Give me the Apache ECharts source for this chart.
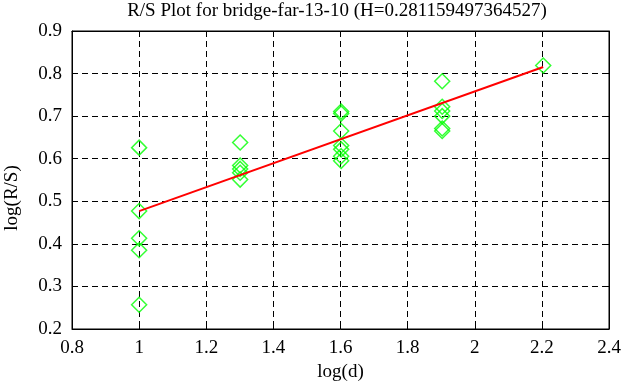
<!DOCTYPE html>
<html><head><meta charset="utf-8">
<script src="https://cdn.jsdelivr.net/npm/echarts@6/dist/echarts.min.js"></script>
<style>html,body{margin:0;padding:0;background:#fff}#c{width:626px;height:387px}</style>
</head><body><div id="c"></div>
<script>
const titleText = 'R/S Plot for bridge-far-13-10 (H=0.281159497364527)';
const xName = 'log(d)';
const yName = 'log(R/S)';
const xTicks = ['0.8','1','1.2','1.4','1.6','1.8','2','2.2','2.4'];
const yTicks = ['0.2','0.3','0.4','0.5','0.6','0.7','0.8','0.9'];
const logD = [1, 1, 1, 1, 1,
  1.301, 1.301, 1.301, 1.301, 1.301,
  1.602, 1.602, 1.602, 1.602, 1.602, 1.602, 1.602,
  1.903, 1.903, 1.903, 1.903, 1.903, 1.903,
  2.204];
const logRS = [0.626, 0.477, 0.413, 0.385, 0.257,
  0.638, 0.584, 0.576, 0.567, 0.551,
  0.711, 0.706, 0.665, 0.631, 0.622, 0.606, 0.595,
  0.782, 0.722, 0.712, 0.700, 0.671, 0.665,
  0.819];
const fitX = [1, 2.204];
const fitY = [0.477, 0.8155];

const font = 'Liberation Serif';
const fs = 19;
const chart = echarts.init(document.getElementById('c'));
const pts = logD.map((x, i) => [x, logRS[i]]);
const fit = fitX.map((x, i) => [x, fitY[i]]);
const tickStyle = {show: true, inside: true, length: 6, lineStyle: {color: '#000', width: 1}};
chart.setOption({
  animation: false,
  backgroundColor: '#fff',
  title: {text: titleText, left: 337, top: 2, padding: 0, textAlign: 'center',
    textStyle: {fontFamily: font, fontSize: fs, fontWeight: 'normal', color: '#000'}},
  graphic: [{
    type: 'text', x: 12, y: 198, rotation: Math.PI / 2,
    style: {text: yName, fontFamily: font, fontSize: fs, fill: '#000',
      align: 'center', verticalAlign: 'middle'}
  }],
  grid: {left: 72, right: 17, top: 31, bottom: 55, show: true, borderColor: '#000', borderWidth: 1},
  xAxis: [{
    type: 'value', min: 0.8, max: 2.4, interval: 0.2,
    name: xName, nameLocation: 'middle', nameGap: 34,
    nameTextStyle: {fontFamily: font, fontSize: fs, color: '#000'},
    axisLine: {show: true, lineStyle: {color: '#000'}},
    axisTick: tickStyle,
    axisLabel: {fontFamily: font, fontSize: fs, color: '#000', margin: 10,
      formatter: v => xTicks[Math.round((v - 0.8) / 0.2)]},
    splitLine: {show: true, lineStyle: {color: '#000', type: [6, 4], width: 1}}
  }, {
    type: 'value', position: 'top', min: 0.8, max: 2.4, interval: 0.2,
    axisLine: {show: true, lineStyle: {color: '#000'}},
    axisTick: tickStyle, axisLabel: {show: false}, splitLine: {show: false}
  }],
  yAxis: [{
    type: 'value', min: 0.2, max: 0.9, interval: 0.1,
    axisLine: {show: true, lineStyle: {color: '#000'}},
    axisTick: tickStyle,
    axisLabel: {fontFamily: font, fontSize: fs, color: '#000', margin: 10,
      formatter: v => yTicks[Math.round((v - 0.2) / 0.1)]},
    splitLine: {show: true, lineStyle: {color: '#000', type: [6, 4], width: 1}}
  }, {
    type: 'value', position: 'right', min: 0.2, max: 0.9, interval: 0.1,
    axisLine: {show: true, lineStyle: {color: '#000'}},
    axisTick: tickStyle, axisLabel: {show: false}, splitLine: {show: false}
  }],
  series: [{
    type: 'scatter', data: pts, symbol: 'diamond', symbolSize: 15,
    itemStyle: {color: 'transparent', borderColor: '#00ff00', borderWidth: 1.5},
    z: 3
  }, {
    type: 'line', data: fit, showSymbol: false, symbol: 'none',
    lineStyle: {color: '#ff0000', width: 2}, z: 4
  }]
});
</script></body></html>
